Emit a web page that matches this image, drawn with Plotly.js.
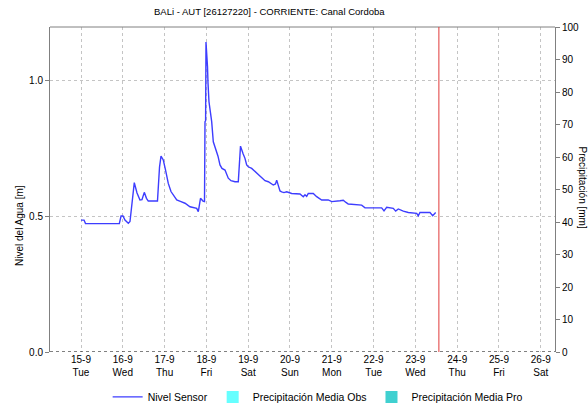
<!DOCTYPE html>
<html>
<head>
<meta charset="utf-8">
<script src="https://cdn.plot.ly/plotly-3.0.1.min.js"></script>
<style>html,body{margin:0;padding:0;background:#fff;}#chart{width:588px;height:405px;}</style>
</head>
<body>
<div id="chart"></div>
<script>
// Nivel Sensor (water level, m)
const nivelTimes = [
"2020-09-15 00:00","2020-09-15 01:45","2020-09-15 02:35","2020-09-15 22:00","2020-09-15 23:00",
"2020-09-16 00:07","2020-09-16 01:15","2020-09-16 03:10","2020-09-16 04:08","2020-09-16 05:17",
"2020-09-16 06:36","2020-09-16 08:10","2020-09-16 09:52","2020-09-16 11:01","2020-09-16 12:20",
"2020-09-16 13:36","2020-09-16 14:38","2020-09-16 19:55","2020-09-16 20:30","2020-09-16 21:05",
"2020-09-16 21:56","2020-09-16 23:15","2020-09-17 00:31","2020-09-17 02:07","2020-09-17 03:40",
"2020-09-17 05:00","2020-09-17 06:58","2020-09-17 09:25","2020-09-17 11:43","2020-09-17 14:35",
"2020-09-17 18:26","2020-09-17 19:21","2020-09-17 20:02","2020-09-17 20:37","2020-09-17 22:03",
"2020-09-17 22:55","2020-09-17 23:12","2020-09-17 23:33","2020-09-17 23:46","2020-09-18 00:14",
"2020-09-18 00:38","2020-09-18 00:55","2020-09-18 01:29","2020-09-18 02:20","2020-09-18 03:02",
"2020-09-18 03:58","2020-09-18 05:20","2020-09-18 06:40","2020-09-18 07:48","2020-09-18 08:57",
"2020-09-18 10:41","2020-09-18 12:34","2020-09-18 14:07","2020-09-18 16:25","2020-09-18 18:19",
"2020-09-18 19:00","2020-09-18 19:35","2020-09-18 21:01","2020-09-18 22:09","2020-09-18 23:08",
"2020-09-19 00:03","2020-09-19 02:01","2020-09-19 04:52","2020-09-19 07:45","2020-09-19 09:39",
"2020-09-19 11:33","2020-09-19 14:24","2020-09-19 15:40","2020-09-19 16:22","2020-09-19 17:24",
"2020-09-19 18:16","2020-09-19 19:14","2020-09-19 20:33","2020-09-19 22:06","2020-09-20 00:59",
"2020-09-20 05:44","2020-09-20 07:38","2020-09-20 08:37","2020-09-20 09:35","2020-09-20 10:30",
"2020-09-20 13:22","2020-09-20 15:20","2020-09-20 18:12","2020-09-20 21:59","2020-09-20 23:57",
"2020-09-21 04:42","2020-09-21 06:36","2020-09-21 08:09","2020-09-21 09:29","2020-09-21 17:10",
"2020-09-21 19:04","2020-09-22 04:39","2020-09-22 05:59","2020-09-22 07:31","2020-09-22 11:18",
"2020-09-22 12:42","2020-09-22 14:11","2020-09-22 17:04","2020-09-22 19:55","2020-09-23 00:45",
"2020-09-23 01:39","2020-09-23 02:38","2020-09-23 08:23","2020-09-23 09:56","2020-09-23 11:40"
];
const nivelValues = [
0.485,0.485,0.472,0.472,0.500,
0.500,0.485,0.473,0.480,0.560,
0.623,0.585,0.559,0.560,0.587,
0.565,0.555,0.555,0.620,0.680,
0.720,0.706,0.670,0.620,0.590,
0.577,0.559,0.553,0.547,0.534,
0.528,0.516,0.550,0.565,0.555,
0.553,0.847,0.850,1.140,1.100,
1.050,0.990,0.920,0.880,0.847,
0.773,0.749,0.720,0.688,0.675,
0.669,0.639,0.630,0.626,0.626,
0.690,0.757,0.730,0.712,0.688,
0.681,0.675,0.657,0.639,0.630,
0.626,0.614,0.618,0.632,0.610,
0.592,0.589,0.586,0.589,0.583,
0.581,0.571,0.578,0.572,0.583,
0.583,0.571,0.559,0.559,0.553,
0.556,0.558,0.550,0.544,0.540,
0.530,0.530,0.519,0.532,0.528,
0.518,0.526,0.518,0.513,0.510,
0.501,0.513,0.513,0.501,0.513
];
// Precipitation (mm) – no rain recorded in the period
const precipDays = ["2020-09-15","2020-09-16","2020-09-17","2020-09-18","2020-09-19","2020-09-20","2020-09-21","2020-09-22","2020-09-23","2020-09-24","2020-09-25","2020-09-26"];
const precipObs = [0,0,0,0,0,0,0,0,0,0,0,0];
const precipPro = [0,0,0,0,0,0,0,0,0,0,0,0];
const nowMarker = "2020-09-23 13:30";
const xRange = ["2020-09-14 06:12","2020-09-26 08:10"];

const FONT = "Liberation Sans, Arial, sans-serif";

const traces = [
  {x: nivelTimes, y: nivelValues, type: "scatter", mode: "lines", name: "Nivel Sensor",
   line: {color: "#3d3dff", width: 1.4}, yaxis: "y"},
  {x: precipDays, y: precipObs, type: "bar", name: "Precipitación Media Obs",
   marker: {color: "#66ffff"}, yaxis: "y2"},
  {x: precipDays, y: precipPro, type: "bar", name: "Precipitación Media Pro",
   marker: {color: "#40d0d0"}, yaxis: "y2"}
];

const layout = {
  width: 588, height: 405,
  margin: {l: 50, r: 33, t: 27, b: 53, autoexpand: false},
  paper_bgcolor: "#fff", plot_bgcolor: "#fff",
  font: {family: FONT, size: 10, color: "#000"},
  title: {text: "BALi - AUT [26127220] - CORRIENTE: Canal Cordoba",
          font: {family: FONT, size: 9.5, color: "#000"},
          x: 0.458, xref: "container", xanchor: "center", y: 0.97, yref: "container", yanchor: "middle"},
  showlegend: true,
  legend: {orientation: "h", x: 0.53, xanchor: "center", y: 0.02, yref: "container", yanchor: "middle",
           font: {family: FONT, size: 10.5, color: "#000"}, itemwidth: 30, tracegroupgap: 0,
           bgcolor: "rgba(0,0,0,0)"},
  bargap: 0.5,
  xaxis: {type: "date", range: xRange, tick0: "2020-09-15", dtick: 86400000,
          tickformat: "%-d-%-m<br>%a", showgrid: true, gridcolor: "#c4c4c4", griddash: "dot",
          gridwidth: 1, showline: false, zeroline: false, ticks: "", ticklen: 0,
          tickfont: {family: FONT, size: 10, color: "#000"}, fixedrange: true, automargin: false},
  yaxis: {range: [0, 1.195], dtick: 0.5, tick0: 0, tickformat: ".1f", showgrid: true,
          gridcolor: "#c4c4c4", griddash: "dot", gridwidth: 1, zeroline: false,
          showline: true, linecolor: "#808080", linewidth: 1, ticks: "outside", ticklen: 4,
          tickcolor: "#808080", tickfont: {family: FONT, size: 10, color: "#000"}, automargin: false},
  yaxis2: {range: [0, 100], dtick: 10, overlaying: "y", side: "right", showgrid: false,
           zeroline: false, showline: true, linecolor: "#808080", linewidth: 1, ticks: "outside",
           ticklen: 4, tickcolor: "#808080", tickfont: {family: FONT, size: 10, color: "#000"}, automargin: false},
  shapes: [
    {type: "line", xref: "paper", yref: "paper", x0: 0, x1: 1, y0: 1, y1: 1, line: {color: "#808080", width: 1}},
    {type: "line", xref: "paper", yref: "y", x0: 0, x1: 1, y0: 0, y1: 0, line: {color: "#000", width: 1, dash: "dot"}},
    {type: "line", xref: "x", yref: "paper", x0: nowMarker, x1: nowMarker, y0: 0, y1: 1, line: {color: "#e03a3a", width: 1}}
  ],
  annotations: [
    {text: "Nivel del Agua [m]", textangle: -90, xref: "paper", yref: "paper",
     x: -0.0594, y: 0.3877, xanchor: "center", yanchor: "middle", showarrow: false,
     font: {family: FONT, size: 10, color: "#000"}},
    {text: "Precipitación [mm]", textangle: 90, xref: "paper", yref: "paper",
     x: 1.0525, y: 0.5077, xanchor: "center", yanchor: "middle", showarrow: false,
     font: {family: FONT, size: 10, color: "#000"}}
  ]
};

Plotly.newPlot("chart", traces, layout, {displayModeBar: false, staticPlot: true});
</script>
</body>
</html>
